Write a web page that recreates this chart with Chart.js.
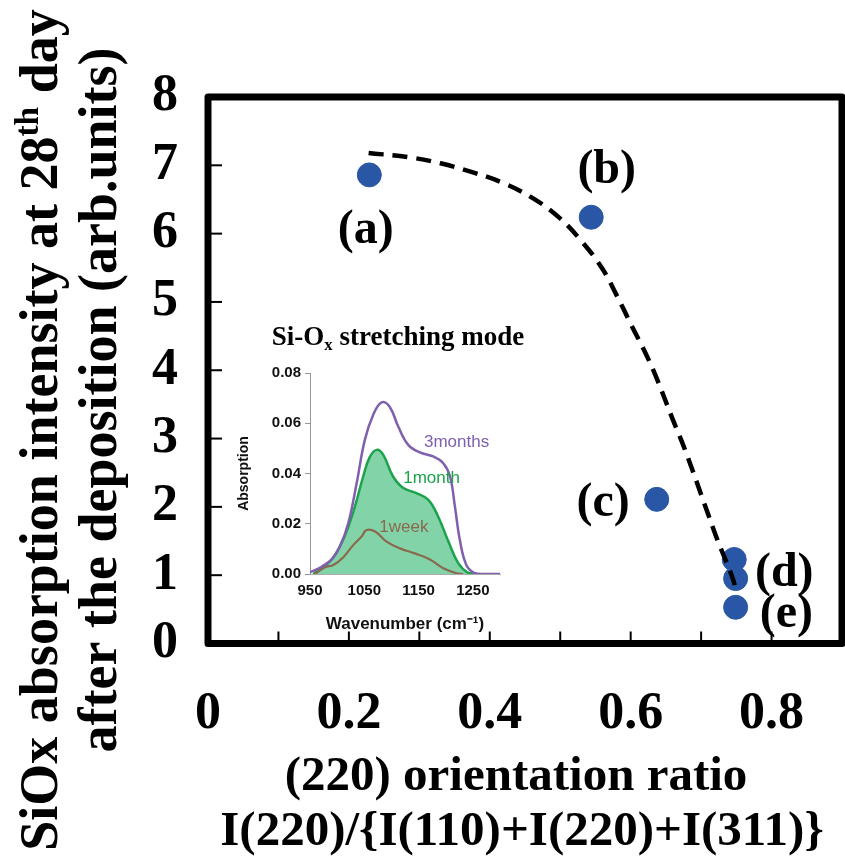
<!DOCTYPE html>
<html>
<head>
<meta charset="utf-8">
<script src="https://cdn.jsdelivr.net/npm/chart.js@4.4.0/dist/chart.umd.min.js"></script>
<style>
    html, body { margin: 0; padding: 0; background: #fff; overflow: hidden; }
    #wrap { position: relative; width: 845px; height: 864px; overflow: hidden; }
    #mainChart { position: absolute; left: 0; top: 0; }
    #insetChart { position: absolute; left: 230px; top: 315px; }
</style>
</head>
<body>
<div id="wrap">
    <canvas id="mainChart" width="855" height="864"></canvas>
    <canvas id="insetChart" width="310" height="320"></canvas>
</div>
<script>
// Main plot: samples (a)-(e)
const orientationRatio = [0.229, 0.544, 0.637, 0.747, 0.749, 0.749];
const siOxIntensity = [6.86, 6.24, 2.11, 1.23, 0.95, 0.53];

// Dashed guide curve
const trendX = [0.228, 0.284, 0.330, 0.375, 0.417, 0.461, 0.499, 0.531, 0.559, 0.580, 0.601, 0.6225, 0.637, 0.659, 0.677, 0.709, 0.723, 0.746, 0.749];
const trendY = [7.18, 7.12, 7.03, 6.90, 6.75, 6.52, 6.23, 5.88, 5.50, 5.10, 4.66, 4.22, 3.88, 3.30, 2.84, 1.92, 1.52, 0.92, 0.74];

// Sample labels
const sampleLabels = ['(a)', '(b)', '(c)', '(d)', '(e)'];
const sampleLabelX = [0.224, 0.566, 0.561, 0.818, 0.821];
const sampleLabelY = [6.05, 6.93, 2.05, 1.03, 0.42];

const xTickLabels = [0, 0.2, 0.4, 0.6, 0.8];
const xMinorTicks = [0.1, 0.2, 0.3, 0.4, 0.5, 0.6, 0.7, 0.8];
const yTickLabels = [0, 1, 2, 3, 4, 5, 6, 7, 8];

// Inset: Si-Ox stretching mode spectra
const wn3months = [950, 971.5, 990, 1005, 1020.5, 1036, 1051, 1066.5, 1082, 1097, 1112.5, 1131, 1152.5, 1177, 1195.5, 1208, 1217, 1226, 1238, 1253.5, 1269, 1300];
const abs3months = [0.0007, 0.0029, 0.0058, 0.0109, 0.0202, 0.0362, 0.0534, 0.0634, 0.0683, 0.0665, 0.0587, 0.0514, 0.0484, 0.0468, 0.0441, 0.0388, 0.0268, 0.0136, 0.0036, 0.0003, 0, 0];
const wn1month = [956, 974.5, 993, 1011, 1030, 1048, 1060, 1073, 1085, 1103, 1122, 1146, 1168, 1186, 1205, 1223, 1241, 1257];
const abs1month = [0, 0.0027, 0.0066, 0.0136, 0.0249, 0.0388, 0.0465, 0.0494, 0.0474, 0.0388, 0.0342, 0.0322, 0.0295, 0.0229, 0.0129, 0.0043, 0.0005, 0];
const wn1week = [959, 977.6, 993, 1011, 1030, 1045, 1054, 1070, 1091, 1116, 1143, 1171, 1195.5, 1220, 1232];
const abs1week = [0, 0.0027, 0.0036, 0.0066, 0.0116, 0.0149, 0.0175, 0.0169, 0.0129, 0.0102, 0.0082, 0.0058, 0.0023, 0.0003, 0];

const insetXTicks = [950, 1050, 1150, 1250];
const insetYTicks = [0, 0.02, 0.04, 0.06, 0.08];

const spectrumNames = ['3months', '1month', '1week'];
const spectrumLabelX = [1220, 1174, 1123];
const spectrumLabelY = [0.0526, 0.0382, 0.0187];

const SERIF = '"Times New Roman", "Liberation Serif", serif';
const SANS = 'Arial, "Liberation Sans", sans-serif';
const PURPLE = '#7f5fae';
const GREEN = '#1da24c';
const BROWN = '#8a6a4e';

const toPoints = (xs, ys) => xs.map((x, i) => ({ x: x, y: ys[i] }));

// text with sup/sub pieces, centred on cx, baseline at cy
function drawRich(ctx, parts, size, family, cx, cy, rotate) {
    ctx.save();
    ctx.translate(cx, cy);
    if (rotate) ctx.rotate(-Math.PI / 2);
    ctx.textAlign = 'left';
    ctx.textBaseline = 'alphabetic';
    ctx.fillStyle = '#000';
    let total = 0;
    const widths = parts.map(p => {
        ctx.font = `bold ${p[1] ? size * 0.62 : size}px ${family}`;
        const w = ctx.measureText(p[0]).width;
        total += w;
        return w;
    });
    let x = -total / 2;
    parts.forEach((p, i) => {
        ctx.font = `bold ${p[1] ? size * 0.62 : size}px ${family}`;
        const dy = p[1] === 'sup' ? -size * 0.36 : (p[1] === 'sub' ? size * 0.2 : 0);
        ctx.fillText(p[0], x, dy);
        x += widths[i];
    });
    ctx.restore();
}

const mainDecor = {
    id: 'mainDecor',
    afterDraw(chart) {
        const ctx = chart.ctx;
        const area = chart.chartArea;
        const xs = chart.scales.x;
        const ys = chart.scales.y;

        // inner tick marks
        ctx.save();
        ctx.strokeStyle = '#000';
        ctx.lineWidth = 2;
        xMinorTicks.forEach(v => {
            const px = xs.getPixelForValue(v);
            ctx.beginPath();
            ctx.moveTo(px, area.bottom);
            ctx.lineTo(px, area.bottom - 12);
            ctx.stroke();
        });
        yTickLabels.slice(1, -1).forEach(v => {
            const py = ys.getPixelForValue(v);
            ctx.beginPath();
            ctx.moveTo(area.left, py);
            ctx.lineTo(area.left + 14, py);
            ctx.stroke();
        });

        // frame
        ctx.lineWidth = 7;
        ctx.lineJoin = 'round';
        ctx.strokeRect(area.left, area.top, area.right - area.left, area.bottom - area.top);
        ctx.restore();

        // sample labels
        ctx.save();
        ctx.fillStyle = '#000';
        ctx.font = `bold 48px ${SERIF}`;
        ctx.textAlign = 'center';
        ctx.textBaseline = 'middle';
        sampleLabels.forEach((t, i) => {
            ctx.fillText(t, xs.getPixelForValue(sampleLabelX[i]), ys.getPixelForValue(sampleLabelY[i]));
        });
        ctx.restore();

        // axis titles
        drawRich(ctx, [['SiOx absorption intensity at 28', ''], ['th', 'sup'], [' day', '']], 54, SERIF, 57, 430, true);
        drawRich(ctx, [['after the deposition (arb.units)', '']], 54, SERIF, 116, 400, true);
        drawRich(ctx, [['(220) orientation ratio', '']], 49, SERIF, 516, 790, false);
        drawRich(ctx, [['I(220)/{I(110)+I(220)+I(311)}', '']], 49, SERIF, 522, 845, false);
    }
};

new Chart(document.getElementById('mainChart'), {
    type: 'scatter',
    data: {
        datasets: [{
            type: 'line',
            data: toPoints(trendX, trendY),
            borderColor: '#000',
            borderWidth: 4.5,
            borderDash: [15, 9],
            pointRadius: 0,
            tension: 0.4,
            fill: false
        }, {
            data: toPoints(orientationRatio, siOxIntensity),
            backgroundColor: '#2a57a5',
            borderColor: '#2a57a5',
            pointRadius: 12
        }]
    },
    options: {
        responsive: false,
        animation: false,
        layout: { padding: { top: 97, right: 8, left: 0, bottom: 0 } },
        scales: {
            x: {
                type: 'linear',
                min: 0,
                max: 0.9,
                grid: { display: false, drawTicks: false },
                border: { display: false },
                afterBuildTicks: s => { s.ticks = xTickLabels.map(v => ({ value: v })); },
                afterFit: s => { s.height = 220.5; },
                ticks: { color: '#000', padding: 40, font: { family: SERIF, size: 52, weight: 'bold' } }
            },
            y: {
                min: 0,
                max: 8,
                grid: { display: false, drawTicks: false },
                border: { display: false },
                afterBuildTicks: s => { s.ticks = yTickLabels.map(v => ({ value: v })); },
                afterFit: s => { s.width = 208; },
                ticks: { color: '#000', padding: 30, font: { family: SERIF, size: 52, weight: 'bold' } }
            }
        },
        plugins: { legend: { display: false }, tooltip: { enabled: false } }
    },
    plugins: [mainDecor]
});

const insetDecor = {
    id: 'insetDecor',
    afterDraw(chart) {
        const ctx = chart.ctx;
        const xs = chart.scales.x;
        const ys = chart.scales.y;
        ctx.save();
        ctx.font = `17px ${SANS}`;
        ctx.textAlign = 'center';
        ctx.textBaseline = 'middle';
        const colors = [PURPLE, GREEN, BROWN];
        spectrumNames.forEach((t, i) => {
            ctx.fillStyle = colors[i];
            ctx.fillText(t, xs.getPixelForValue(spectrumLabelX[i]), ys.getPixelForValue(spectrumLabelY[i]));
        });
        ctx.restore();
        drawRich(ctx, [['Si-O', ''], ['x', 'sub'], [' stretching mode', '']], 27, SERIF, 168, 30, false);
    }
};

const tickFont = { family: SANS, size: 15, weight: 'bold' };

new Chart(document.getElementById('insetChart'), {
    type: 'line',
    data: {
        datasets: [{
            data: toPoints(wn3months, abs3months),
            borderColor: PURPLE,
            borderWidth: 2.5,
            pointRadius: 0,
            tension: 0.4,
            fill: false
        }, {
            data: toPoints(wn1week, abs1week),
            borderColor: BROWN,
            borderWidth: 2.2,
            pointRadius: 0,
            tension: 0.4,
            fill: false
        }, {
            data: toPoints(wn1month, abs1month),
            borderColor: GREEN,
            borderWidth: 2.5,
            backgroundColor: 'rgba(90, 196, 140, 0.75)',
            pointRadius: 0,
            tension: 0.4,
            fill: 'origin'
        }]
    },
    options: {
        responsive: false,
        animation: false,
        layout: { padding: { top: 58, right: 40, left: 0, bottom: 0 } },
        scales: {
            x: {
                type: 'linear',
                min: 950,
                max: 1300,
                grid: { display: false, drawTicks: false },
                border: { display: true, color: '#aaa' },
                afterBuildTicks: s => { s.ticks = insetXTicks.map(v => ({ value: v })); },
                afterFit: s => { s.height = 61; },
                ticks: { color: '#111', padding: 8, font: tickFont, callback: v => String(v) },
                title: { display: true, text: 'Wavenumber (cm⁻¹)', color: '#111', padding: 0, font: { family: SANS, size: 17, weight: 'bold' } }
            },
            y: {
                min: 0,
                max: 0.08,
                grid: { display: true, drawOnChartArea: false, tickLength: 5, color: '#999' },
                border: { display: true, color: '#999' },
                afterBuildTicks: s => { s.ticks = insetYTicks.map(v => ({ value: v })); },
                afterFit: s => { s.width = 80; },
                ticks: { color: '#111', padding: 4, font: tickFont, callback: v => v.toFixed(2) },
                title: { display: true, text: 'Absorption', color: '#111', padding: { top: 6, bottom: 0 }, font: { family: SANS, size: 14, weight: 'bold' } }
            }
        },
        plugins: { legend: { display: false }, tooltip: { enabled: false } }
    },
    plugins: [insetDecor]
});
</script>
</body>
</html>
